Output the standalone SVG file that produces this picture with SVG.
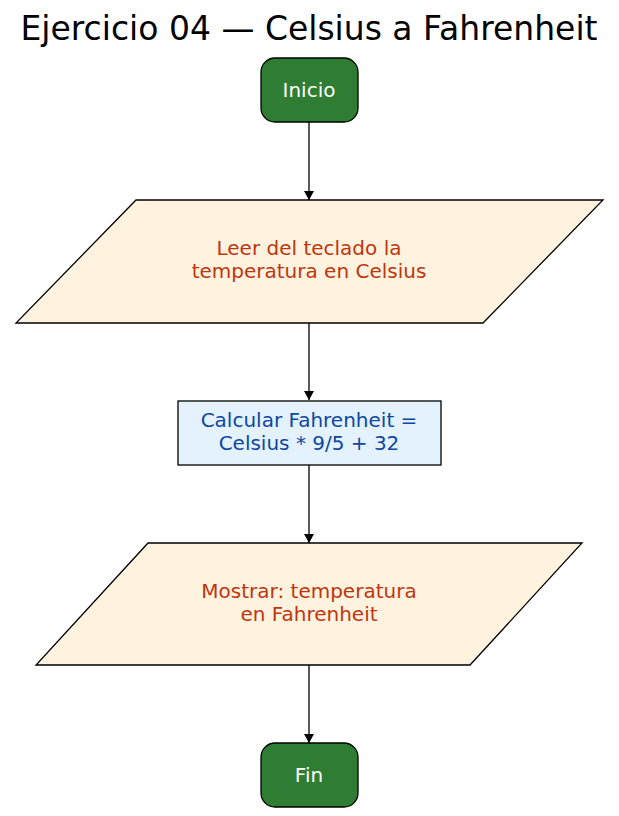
<svg xmlns="http://www.w3.org/2000/svg" width="619" height="816" viewBox="0 0 619 816">
<style>
text{font-family:"DejaVu Sans",sans-serif;text-anchor:middle}
.t{font-size:20px;fill:#fff}
.io{fill:#fff3e0;stroke:#000;stroke-width:1.3}
.iot{font-size:20px;fill:#bf360c}
.term{fill:#2e7d32;stroke:#000;stroke-width:1.3}
.e{stroke:#000;stroke-width:1.3;fill:none;marker-end:url(#a)}
</style>
<defs><marker id="a" markerWidth="10" markerHeight="14" refX="9" refY="7" orient="auto" markerUnits="userSpaceOnUse"><path d="M0,2L9,7L0,12z" fill="#000"/></marker></defs>
<rect width="619" height="816" fill="#fff"/>
<text x="309" y="40" style="font-size:33px;fill:#000">Ejercicio 04 — Celsius a Fahrenheit</text>
<g id="edges">
<path class="e" d="M309,122V200"/>
<path class="e" d="M309,323V400"/>
<path class="e" d="M309,465V543"/>
<path class="e" d="M309,665V743"/>
</g>
<g id="inicio"><rect class="term" x="261" y="58" width="97" height="64" rx="14"/><text class="t" x="309" y="97">Inicio</text></g>
<g id="leer"><polygon class="io" points="136,200 603,200 483,323 16,323"/><text class="iot" x="309" y="255">Leer del teclado la</text><text class="iot" x="309" y="278">temperatura en Celsius</text></g>
<g id="calc"><rect x="178" y="401" width="263" height="64" fill="#e3f2fd" stroke="#000" stroke-width="1.3"/><text x="309" y="427" style="font-size:20px;fill:#0d47a1">Calcular Fahrenheit =</text><text x="309" y="450" style="font-size:20px;fill:#0d47a1">Celsius * 9/5 + 32</text></g>
<g id="mostrar"><polygon class="io" points="148,543 582,543 470,665 36,665"/><text class="iot" x="309" y="598">Mostrar: temperatura</text><text class="iot" x="309" y="621">en Fahrenheit</text></g>
<g id="fin"><rect class="term" x="261" y="743" width="97" height="64" rx="14"/><text class="t" x="309" y="782">Fin</text></g>
</svg>
